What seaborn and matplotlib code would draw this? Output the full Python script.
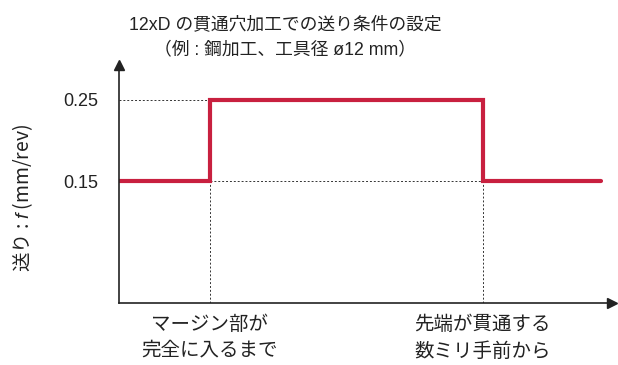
import seaborn as sns
import matplotlib.pyplot as plt
import pandas as pd

# 送り条件（ステップ）
pos = [0.0, 1.0, 4.0, 5.3]
feed = [0.15, 0.25, 0.15, 0.15]
yticks = [0.15, 0.25]
xlabels = ['マージン部が\n完全に入るまで', '先端が貫通する\n数ミリ手前から']
xlabel_pos = [1.0, 4.0]

sns.set_style('white')
plt.rcParams['font.family'] = ['Liberation Sans', 'Noto Sans CJK JP', 'DejaVu Sans']
plt.rcParams['mathtext.fontset'] = 'custom'
plt.rcParams['mathtext.it'] = 'Liberation Sans:italic'
plt.rcParams['mathtext.rm'] = 'Liberation Sans'

fig = plt.figure(figsize=(6.18, 3.65), dpi=100)
ax = fig.add_axes([119 / 618, 62 / 365, 493 / 618, 238 / 365])

df = pd.DataFrame({'pos': pos, 'feed': feed})
sns.lineplot(data=df, x='pos', y='feed', ax=ax, color='#c8203f', lw=3,
             drawstyle='steps-post', sort=False, solid_joinstyle='miter')

# 補助線
dot = dict(color='#333333', lw=0.7, ls=(0, (2, 2)), zorder=1)
ax.plot([0, xlabel_pos[0]], [yticks[1], yticks[1]], **dot)
ax.plot([xlabel_pos[0], xlabel_pos[1]], [yticks[0], yticks[0]], **dot)
for xp in xlabel_pos:
    ax.plot([xp, xp], [0, yticks[0]], **dot)

ax.set_xlim(0, 5.42)
ax.set_ylim(0, 0.293)
sns.despine(ax=ax)
for s in ['left', 'bottom']:
    ax.spines[s].set_linewidth(1.2)
    ax.spines[s].set_color('#222222')
ax.plot(1, 0, '>', color='#222222', ms=7, transform=ax.get_yaxis_transform(), clip_on=False)
ax.plot(0, 1, '^', color='#222222', ms=7, transform=ax.get_xaxis_transform(), clip_on=False)

ax.set_yticks(yticks)
ax.set_yticklabels([f'{v:.2f}' for v in yticks], fontsize=13, color='#222222')
ax.set_xticks(xlabel_pos)
ax.set_xticklabels(xlabels, fontsize=14, color='#222222', linespacing=1.55)
ax.tick_params(axis='y', length=0, pad=15)
ax.tick_params(axis='x', length=0, pad=9)
ax.set_xlabel('')
ax.set_ylabel('送り : $\\it{f}$ (mm/rev)', fontsize=14, color='#222222',
              family='Noto Sans CJK JP')
ax.yaxis.set_label_coords(-0.17, 0.44)

fig.suptitle('12xD の貫通穴加工での送り条件の設定\n（例 : 鋼加工、工具径 ø12 mm）',
             x=285 / 618, y=0.955, fontsize=12.8, color='#222222', linespacing=1.6)

fig.savefig('out.png', dpi=100)
